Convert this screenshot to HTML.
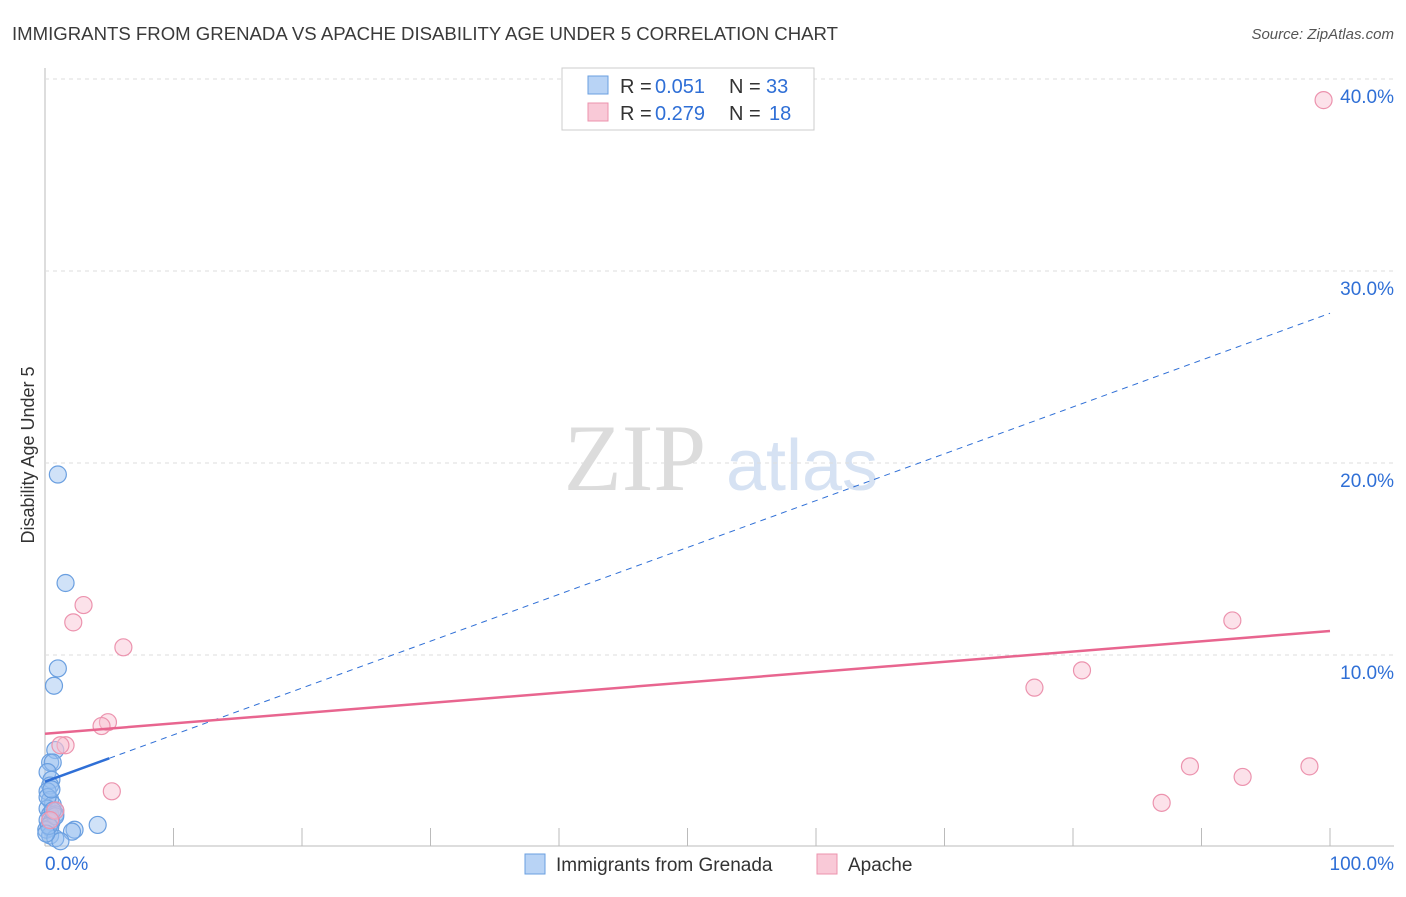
<!DOCTYPE html>
<html><head><meta charset="utf-8"><style>
body{margin:0;background:#fff;font-family:"Liberation Sans",sans-serif}
</style></head><body>
<svg id="c" width="1406" height="892" xmlns="http://www.w3.org/2000/svg">
<text x="12" y="40" font-size="18" fill="#3a3a3a" textLength="826" lengthAdjust="spacingAndGlyphs">IMMIGRANTS FROM GRENADA VS APACHE DISABILITY AGE UNDER 5 CORRELATION CHART</text>
<text x="1394" y="39" font-size="15" fill="#555" font-style="italic" text-anchor="end">Source: ZipAtlas.com</text>
<text x="34" y="455" font-size="18" fill="#333" transform="rotate(-90 34 455)" text-anchor="middle">Disability Age Under 5</text>
<text x="635" y="490" font-size="95" fill="#dcdcdc" font-family="Liberation Serif" text-anchor="middle">ZIP</text>
<text x="802" y="490" font-size="72" fill="#d6e2f3" text-anchor="middle">atlas</text>
<g id="grid"></g><g id="marks"></g>
<g>
<rect x="562" y="68" width="252" height="62" fill="#fff" stroke="#ccc"/>
<rect x="588" y="76" width="20" height="18" fill="#b8d3f5" stroke="#6a9fe0"/>
<text x="620" y="93" font-size="20" fill="#333">R =</text>
<text x="655" y="93" font-size="20" fill="#2f6fd6">0.051</text>
<text x="729" y="93" font-size="20" fill="#333">N =</text>
<text x="766" y="93" font-size="20" fill="#2f6fd6">33</text>
<rect x="588" y="103" width="20" height="18" fill="#f9c9d7" stroke="#ec93ae"/>
<text x="620" y="120" font-size="20" fill="#333">R =</text>
<text x="655" y="120" font-size="20" fill="#2f6fd6">0.279</text>
<text x="729" y="120" font-size="20" fill="#333">N =</text>
<text x="769" y="120" font-size="20" fill="#2f6fd6">18</text>
</g>
<g>
<rect x="525" y="854" width="20" height="20" fill="#b8d3f5" stroke="#6a9fe0"/>
<text x="556" y="871" font-size="19" fill="#333">Immigrants from Grenada</text>
<rect x="817" y="854" width="20" height="20" fill="#f9c9d7" stroke="#ec93ae"/>
<text x="848" y="871" font-size="19" fill="#333">Apache</text>
</g>
</svg>
<script>
const yTicks=[10,20,30,40];
const yTickLabels=["10.0%","20.0%","30.0%","40.0%"];
const xTickLabels=["0.0%","100.0%"];
const blueX=[1.0,1.6,1.0,0.7,0.8,0.4,0.6,0.2,0.5,0.4,0.2,0.4,0.6,0.2,0.8,0.4,0.8,0.2,0.5,0.4,0.1,0.8,4.1,2.3,2.1,0.4,0.8,0.2,0.5,1.2,0.3,0.6,0.1];
const blueY=[19.4,13.75,9.3,8.4,5.05,4.4,4.4,3.9,3.5,3.2,2.9,2.45,2.2,2.0,1.9,1.7,1.7,1.4,1.3,1.0,0.9,1.6,1.15,0.9,0.8,0.6,0.45,2.6,3.0,0.3,1.1,1.9,0.7];
const pinkX=[3.0,2.2,6.1,4.9,4.4,1.6,1.2,5.2,99.5,92.4,80.7,77.0,89.1,93.2,98.4,86.9,0.8,0.4];
const pinkY=[12.6,11.7,10.4,6.5,6.3,5.3,5.3,2.9,38.9,11.8,9.2,8.3,4.2,3.65,4.2,2.3,1.9,1.4];
const blueFit=[3.4,27.8];const blueSolidEnd=5;
const pinkFit=[5.9,11.25];
const NS="http://www.w3.org/2000/svg";
const X=v=>45+v*12.85, Y=v=>847-v*19.2;
const g=document.getElementById('grid'),m=document.getElementById('marks');
function el(t,a,p){const e=document.createElementNS(NS,t);for(const k in a)e.setAttribute(k,a[k]);p.appendChild(e);return e;}
let ax=el('line',{x1:45,y1:68,x2:45,y2:846,stroke:'#bbb'},g);

let bx=el('line',{x1:45,y1:846,x2:1394,y2:846,stroke:'#bbb'},g);

yTicks.forEach((t,i)=>{
 let l=el('line',{x1:45,y1:Y(t),x2:1394,y2:Y(t),stroke:'#ddd','stroke-dasharray':'4,4'},g);
 
 let tx=el('text',{x:1394,y:Y(t)+24,'font-size':19,fill:'#2f6fd6','text-anchor':'end'},g);
 tx.textContent=yTickLabels[i];
 
});
for(let i=1;i<=10;i++){let l=el('line',{x1:X(i*10),y1:828,x2:X(i*10),y2:846,stroke:'#bbb'},g);
 }
let t0=el('text',{x:45,y:870,'font-size':19,fill:'#2f6fd6'},g);t0.textContent=xTickLabels[0];

let t1=el('text',{x:1394,y:870,'font-size':19,fill:'#2f6fd6','text-anchor':'end'},g);t1.textContent=xTickLabels[1];

blueX.forEach((v,i)=>{let c=el('circle',{cx:X(v),cy:Y(blueY[i]),r:8.5,fill:'rgba(150,190,240,0.45)',stroke:'#6a9fe0','stroke-width':1.2},m);
 });
pinkX.forEach((v,i)=>{let c=el('circle',{cx:X(v),cy:Y(pinkY[i]),r:8.5,fill:'rgba(248,190,208,0.45)',stroke:'#ec93ae','stroke-width':1.2},m);
 });
const bf=x=>blueFit[0]+(blueFit[1]-blueFit[0])*x/100;
let bd=el('line',{x1:X(blueSolidEnd),y1:Y(bf(blueSolidEnd)),x2:X(100),y2:Y(bf(100)),stroke:'#2f6fd6','stroke-width':1,'stroke-dasharray':'6,5'},m);

let bs=el('line',{x1:X(0),y1:Y(bf(0)),x2:X(blueSolidEnd),y2:Y(bf(blueSolidEnd)),stroke:'#2f6fd6','stroke-width':2.5},m);

let pl=el('line',{x1:X(0),y1:Y(pinkFit[0]),x2:X(100),y2:Y(pinkFit[1]),stroke:'#e8658f','stroke-width':2.5},m);

</script>
</body></html>
